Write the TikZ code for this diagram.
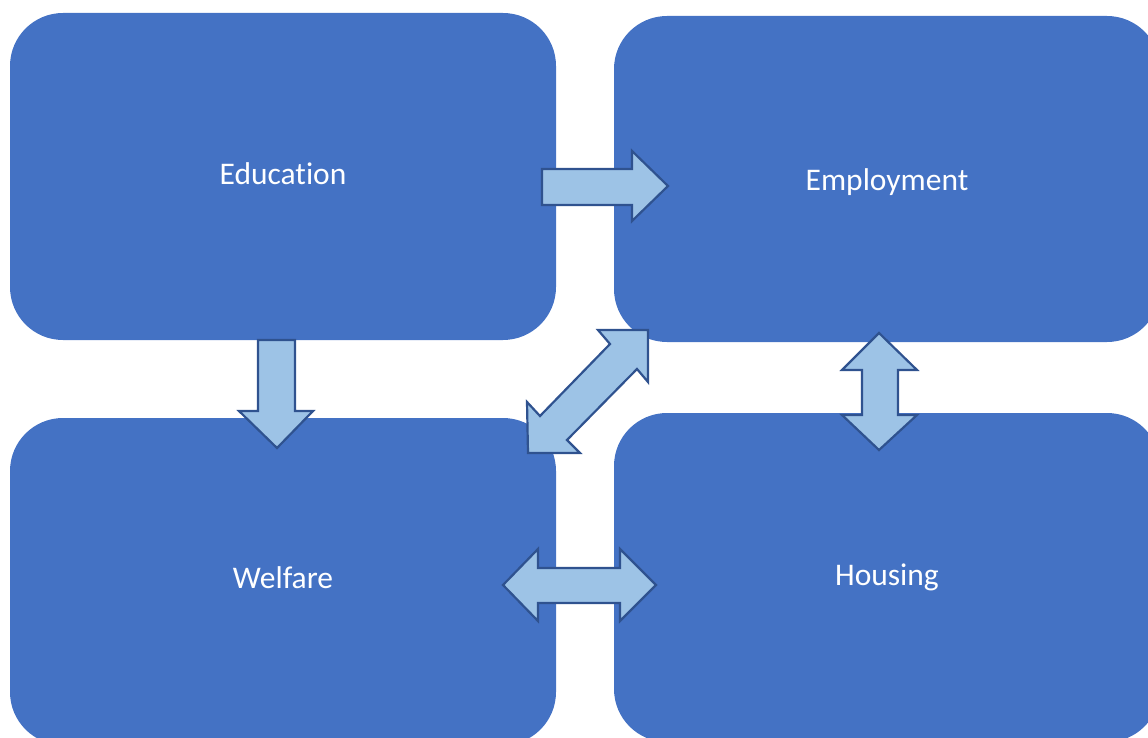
\documentclass[tikz,border=0pt]{standalone}
\usepackage{fontspec}
\setmainfont[Ligatures=NoCommon]{Carlito}
\definecolor{boxblue}{HTML}{4472C4}
\definecolor{arrfill}{HTML}{9DC3E6}
\definecolor{arrline}{HTML}{2F528F}
\begin{document}
\begin{tikzpicture}[x=1pt,y=-1pt,
  blk/.style={fill=boxblue, draw=none, rounded corners=53pt},
  lbl/.style={text=white, anchor=base, inner sep=0pt, font=\fontsize{31.5}{36}\selectfont},
  blockarrow/.style={fill=arrfill, draw=arrline, line width=2.2pt, line join=miter}]
\useasboundingbox (0,0) rectangle (1148,738);
% boxes
\path[blk] (10,13) rectangle (556,340);
\path[blk] (614,16) rectangle (1160,342);
\path[blk] (10,418) rectangle (556,745);
\path[blk] (614,413) rectangle (1160,742);
\node[lbl] (edu) at (283,185) {Education};
\node[lbl] (emp) at (887,190) {Employment};
\node[lbl] (wel) at (283,588) {Welfare};
\node[lbl] (hou) at (887,585) {Housing};
% right arrow Education -> Employment
\draw[blockarrow] (542,169) -- (632,169) -- (632,151) -- (668,186) -- (632,221) -- (632,205) -- (542,205) -- cycle;
% down arrow Education -> Welfare
\draw[blockarrow] (258,340) -- (295,340) -- (295,411) -- (313,411) -- (277,448) -- (239,411) -- (258,411) -- cycle;
% diagonal double arrow Welfare <-> Employment
\draw[blockarrow] (598,330) -- (648,330) -- (648,382) -- (637,369) -- (567,440) -- (580,453) -- (528,453) -- (527,402) -- (540,416) -- (610,344) -- cycle;
% vertical double arrow Employment <-> Housing
\draw[blockarrow] (879,333) -- (917,370) -- (898,370) -- (898,415) -- (917,415) -- (879,450) -- (842,415) -- (862,415) -- (862,370) -- (842,370) -- cycle;
% horizontal double arrow Welfare <-> Housing
\draw[blockarrow] (503,585) -- (538,549) -- (538,568) -- (620,568) -- (620,549) -- (656,585) -- (620,621) -- (620,603) -- (538,603) -- (538,621) -- cycle;
\end{tikzpicture}
\end{document}
